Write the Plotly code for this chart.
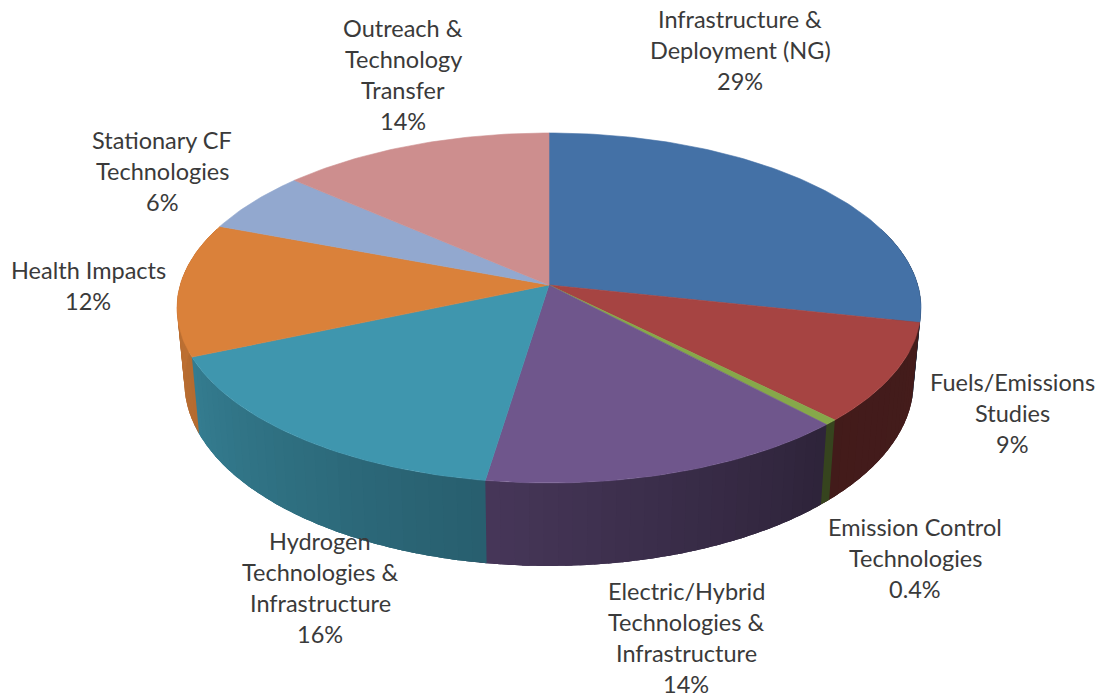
"""3D style pie of research funding shares, drawn as projected polygons."""

import numpy as np
import plotly.graph_objects as go

names = [
    "Infrastructure &\nDeployment (NG)",
    "Fuels/Emissions\nStudies",
    "Emission Control\nTechnologies",
    "Electric/Hybrid\nTechnologies &\nInfrastructure",
    "Hydrogen\nTechnologies &\nInfrastructure",
    "Health Impacts",
    "Stationary CF\nTechnologies",
    "Outreach &\nTechnology\nTransfer",
]
# slice sizes as read from the drawn wedges, the labels are the rounded figures
shares = [28.4, 9.2, 0.5, 14.3, 16.1, 12.3, 5.7, 13.5]
percent_text = ["29%", "9%", "0.4%", "14%", "16%", "12%", "6%", "14%"]
colors = ["#4471A6", "#A64442", "#86A84A", "#6F568C", "#3F96AE", "#DA813A", "#92A8CF", "#CD8E8E"]

label_x = [740, 1012, 915, 686, 320, 88, 162, 403]
label_y = [19, 382, 527, 591, 541, 270, 140, 28]
LINE_STEP = 31

# projection of the unit disc onto the page
CX, CY = 549, 285
RX, RY = 368.8, 172
PERSP = 0.1314
# the lower rim of the wall relative to the top face
LOW_SX, LOW_SY, LOW_DY = 0.98, 1.05, 73


def project(deg, radius=1.0):
    a = np.radians(deg)
    u, v = radius * np.sin(a), radius * np.cos(a)
    w = 1 + PERSP * v
    return CX + RX * u / w, CY - RY * v / w


def project_low(deg):
    x, y = project(deg)
    return CX + LOW_SX * (x - CX), CY + LOW_DY + LOW_SY * (y - CY)


def shaded(hex_color, f):
    r, g, b = [int(hex_color[i:i + 2], 16) for i in (1, 3, 5)]
    return f"rgb({r * f:.0f},{g * f:.0f},{b * f:.0f})"


edges = np.concatenate([[0], np.cumsum(shares)]) / np.sum(shares) * 360

fig = go.Figure()

# side wall first, in thin strips so that the shading runs along the rim;
# each strip runs past its end and the next one paints over the overlap
for i, col in enumerate(colors):
    start, end = max(edges[i], 70), min(edges[i + 1], 290)
    if end <= start:
        continue
    steps = np.linspace(start, end, max(2, int((end - start) / 2) + 2))
    for a0, a1 in zip(steps[:-1], steps[1:]):
        mid = (a0 + a1) / 2
        f = np.interp(mid, [100, 135, 188, 247, 280], [0.41, 0.40, 0.63, 0.83, 0.88])
        arc = np.linspace(a0, min(a1 + 3, 290), 6)
        tx, ty = project(arc)
        bx, by = project_low(arc[::-1])
        fig.add_trace(go.Scatter(
            x=list(tx) + list(bx) + [tx[0]],
            y=list(ty) + list(by) + [ty[0]],
            mode="none",
            fill="toself",
            fillcolor=shaded(col, f),
            hoverinfo="skip",
        ))

# top face
for i, col in enumerate(colors):
    arc = np.linspace(edges[i], edges[i + 1], max(3, int(edges[i + 1] - edges[i]) + 2))
    ax, ay = project(arc)
    fig.add_trace(go.Scatter(
        x=[CX] + list(ax) + [CX],
        y=[CY] + list(ay) + [CY],
        mode="lines",
        fill="toself",
        fillcolor=col,
        line=dict(color=col, width=0.6),
        hoverinfo="skip",
    ))

for name, pct, lx, ly in zip(names, percent_text, label_x, label_y):
    for n, line in enumerate(name.split("\n") + [pct]):
        fig.add_annotation(
            x=lx, y=ly + n * LINE_STEP,
            text=line,
            showarrow=False,
            xanchor="center",
            yanchor="middle",
            font=dict(family="Lato, sans-serif", size=23.5, color="#3a3a3a"),
        )

fig.update_xaxes(range=[0, 1099], visible=False, fixedrange=True)
fig.update_yaxes(range=[698, 0], visible=False, fixedrange=True)
fig.update_layout(
    width=1099,
    height=698,
    margin=dict(l=0, r=0, t=0, b=0),
    showlegend=False,
    plot_bgcolor="white",
    paper_bgcolor="white",
)

fig.write_html(
    "out.html",
    config=dict(displayModeBar=False),
    post_script="document.body.style.margin='0';document.documentElement.style.overflow='hidden';",
)
